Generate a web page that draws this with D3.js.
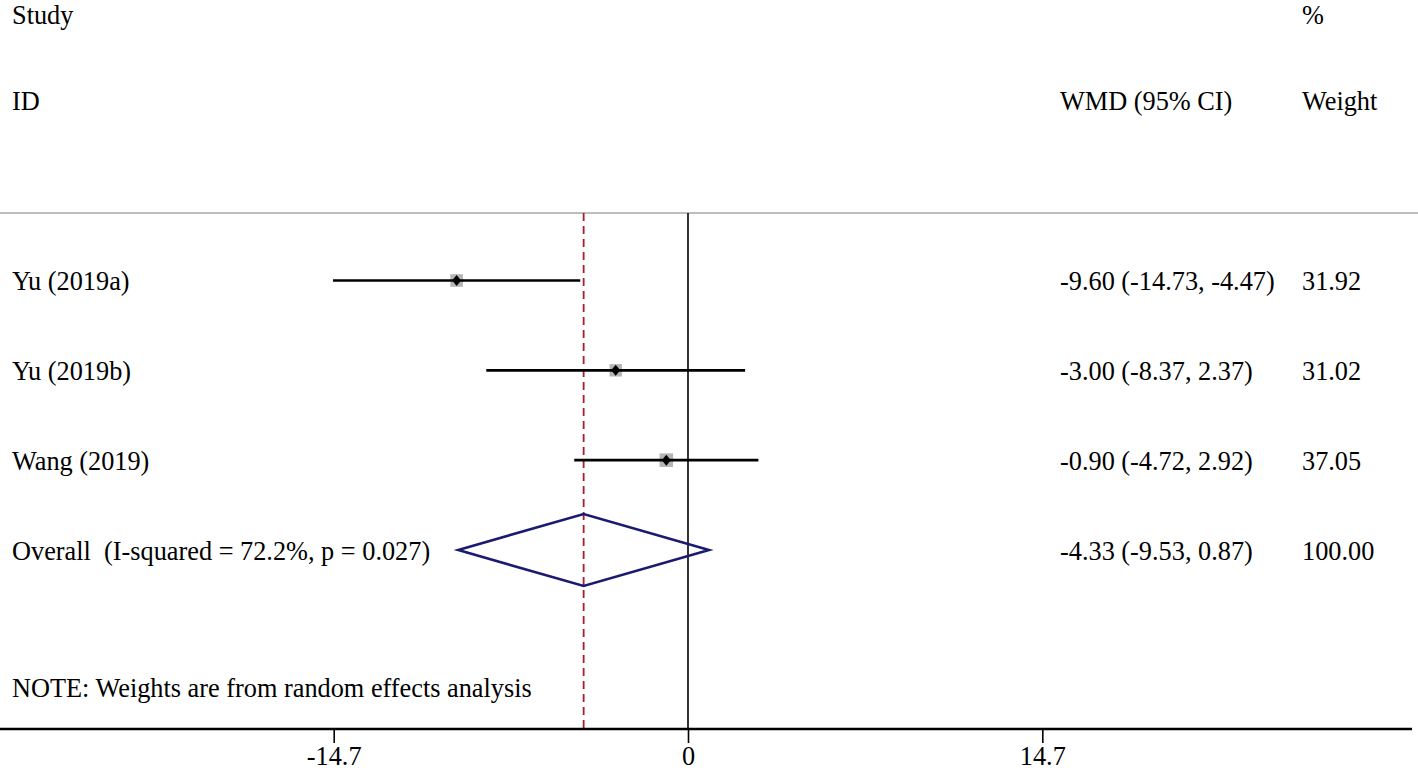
<!DOCTYPE html>
<html><head><meta charset="utf-8">
<script src="https://cdn.jsdelivr.net/npm/d3@7"></script>
<style>html,body{margin:0;padding:0;background:#fff;}svg{display:block;} text{white-space:pre;}</style>
</head><body>
<svg id="chart" width="1418" height="771"></svg>
<script>
// ---- data ----
const studies = ["Yu (2019a)", "Yu (2019b)", "Wang (2019)"];
const estimates = [-9.60, -3.00, -0.90];
const lowerCI = [-14.73, -8.37, -4.72];
const upperCI = [-4.47, 2.37, 2.92];
const weights = [31.92, 31.02, 37.05];
const overallLabel = "Overall  (I-squared = 72.2%, p = 0.027)";
const overall = {est: -4.33, lo: -9.53, hi: 0.87, weight: 100.00};
const tickValues = [-14.7, 0, 14.7];
const tickLabels = ["-14.7", "0", "14.7"];
const note = "NOTE: Weights are from random effects analysis";

// ---- layout ----
const svg = d3.select("#chart");
const W = 1418, H = 771;
const font = "'Liberation Serif','Times New Roman',serif";
const fs = 26.3;
const x = d3.scaleLinear().domain([-14.7, 14.7]).range([333.7, 1042.3]);
const y = d3.scaleLinear().domain([0, 3]).range([280.5, 550]);
const plotTop = 213, axisY = 729;

function txt(str, tx, ty, anchor) {
  svg.append("text")
    .attr("x", tx).attr("y", ty)
    .attr("font-family", font).attr("font-size", fs)
    .attr("fill", "#000")
    .attr("xml:space", "preserve")
    .attr("text-anchor", anchor || "start")
    .text(str);
}

// header
txt("Study", 12, 24);
txt("ID", 12, 110);
txt("%", 1302, 24);
txt("WMD (95% CI)", 1060, 110);
txt("Weight", 1302, 110);

// top grey line
svg.append("line").attr("x1", 0).attr("x2", W).attr("y1", plotTop).attr("y2", plotTop)
  .attr("stroke", "#bdbdbd").attr("stroke-width", 2);

// null line
svg.append("line").attr("x1", x(0)).attr("x2", x(0)).attr("y1", plotTop).attr("y2", axisY)
  .attr("stroke", "#000").attr("stroke-width", 1.6);

// overall dashed line
svg.append("line").attr("x1", x(overall.est)).attr("x2", x(overall.est)).attr("y1", plotTop).attr("y2", axisY)
  .attr("stroke", "#a81f26").attr("stroke-width", 1.8).attr("stroke-dasharray", "8,5");

// study rows
const rows = studies.map((s, i) => ({s, i, est: estimates[i], lo: lowerCI[i], hi: upperCI[i], w: weights[i]}));
const g = svg.append("g");
const k = 2.22;
g.selectAll("rect.wt").data(rows).join("rect")
  .attr("x", d => x(d.est) - k * Math.sqrt(d.w) / 2)
  .attr("y", d => y(d.i) - k * Math.sqrt(d.w) / 2)
  .attr("width", d => k * Math.sqrt(d.w))
  .attr("height", d => k * Math.sqrt(d.w))
  .attr("fill", "#b4b4b4");
g.selectAll("line.ci").data(rows).join("line")
  .attr("x1", d => x(d.lo)).attr("x2", d => x(d.hi))
  .attr("y1", d => y(d.i)).attr("y2", d => y(d.i))
  .attr("stroke", "#000").attr("stroke-width", 2.6);
g.selectAll("path.pt").data(rows).join("path")
  .attr("d", d => {
    const cx = x(d.est), cy = y(d.i), hw = 4.5, hh = 5.5;
    return `M${cx},${cy-hh}L${cx+hw},${cy}L${cx},${cy+hh}L${cx-hw},${cy}Z`;
  })
  .attr("fill", "#000");

rows.forEach(d => {
  txt(d.s, 12, y(d.i) + 9.5);
  txt(`${d.est.toFixed(2)} (${d.lo.toFixed(2)}, ${d.hi.toFixed(2)})`, 1060, y(d.i) + 9.5);
  txt(d.w.toFixed(2), 1302, y(d.i) + 9.5);
});

// overall diamond
const oy = y(3);
svg.append("path")
  .attr("d", `M${x(overall.lo)},${oy}L${x(overall.est)},${oy-36}L${x(overall.hi)},${oy}L${x(overall.est)},${oy+36}Z`)
  .attr("fill", "none").attr("stroke", "#1a1a72").attr("stroke-width", 2.6);
txt(overallLabel, 12, oy + 9.5);
txt(`${overall.est.toFixed(2)} (${overall.lo.toFixed(2)}, ${overall.hi.toFixed(2)})`, 1060, oy + 9.5);
txt(overall.weight.toFixed(2), 1302, oy + 9.5);

txt(note, 12, 697);

// x axis
svg.append("line").attr("x1", 0).attr("x2", 1412).attr("y1", axisY).attr("y2", axisY)
  .attr("stroke", "#000").attr("stroke-width", 2.6);
const axis = d3.axisBottom(x).tickValues(tickValues).tickSize(14)
  .tickFormat((d, i) => tickLabels[i]);
const ag = svg.append("g").attr("transform", `translate(0,${axisY})`).call(axis);
ag.select(".domain").remove();
ag.selectAll(".tick line").attr("stroke", "#000").attr("stroke-width", 1.6);
ag.selectAll(".tick text").attr("font-family", font).attr("font-size", fs)
  .attr("fill", "#000").attr("y", 0).attr("dy", 0)
  .attr("transform", `translate(0,36)`);
</script>
</body></html>
